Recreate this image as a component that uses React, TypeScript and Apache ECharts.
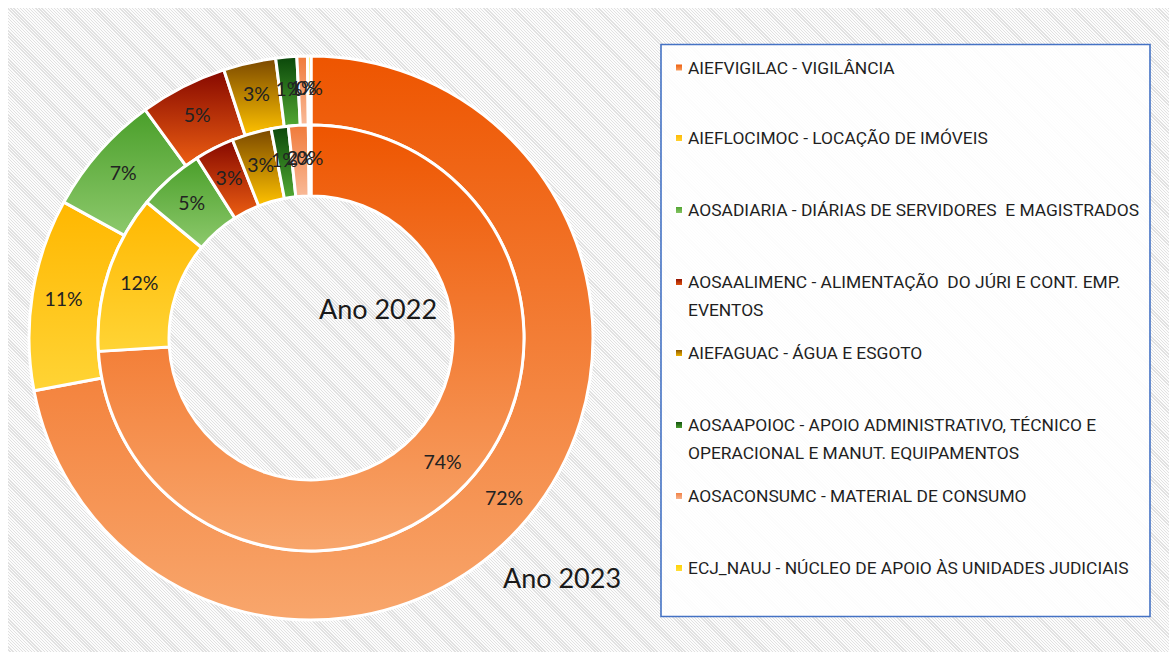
import React, { useEffect, useRef } from "react";
import * as echarts from "echarts";

const categories = [
  "AIEFVIGILAC - VIGILÂNCIA",
  "AIEFLOCIMOC - LOCAÇÃO DE IMÓVEIS",
  "AOSADIARIA - DIÁRIAS DE SERVIDORES  E MAGISTRADOS",
  "AOSAALIMENC - ALIMENTAÇÃO  DO JÚRI E CONT. EMP. EVENTOS",
  "AIEFAGUAC - ÁGUA E ESGOTO",
  "AOSAAPOIOC - APOIO ADMINISTRATIVO, TÉCNICO E OPERACIONAL E MANUT. EQUIPAMENTOS",
  "AOSACONSUMC - MATERIAL DE CONSUMO",
  "ECJ_NAUJ - NÚCLEO DE APOIO ÀS UNIDADES JUDICIAIS",
];

const legendLines = [
  ["AIEFVIGILAC - VIGILÂNCIA"],
  ["AIEFLOCIMOC - LOCAÇÃO DE IMÓVEIS"],
  ["AOSADIARIA - DIÁRIAS DE SERVIDORES  E MAGISTRADOS"],
  ["AOSAALIMENC - ALIMENTAÇÃO  DO JÚRI E CONT. EMP.", "EVENTOS"],
  ["AIEFAGUAC - ÁGUA E ESGOTO"],
  ["AOSAAPOIOC - APOIO ADMINISTRATIVO, TÉCNICO E", "OPERACIONAL E MANUT. EQUIPAMENTOS"],
  ["AOSACONSUMC - MATERIAL DE CONSUMO"],
  ["ECJ_NAUJ - NÚCLEO DE APOIO ÀS UNIDADES JUDICIAIS"],
];

const seriesNames = ["Ano 2023", "Ano 2022"];
const values2023 = [72, 11, 7, 5, 3, 1.2, 0.6, 0.2];
const values2022 = [74, 12, 5, 3, 3, 1.3, 1.5, 0.2];

const gradients = [
  ["#EE5500", "#F8A66C"],
  ["#FFB700", "#FFD435"],
  ["#4A9F2A", "#8DC96C"],
  ["#860800", "#EC5E12"],
  ["#7A4800", "#FFC200"],
  ["#0A470A", "#52A832"],
  ["#F07A3A", "#F9BA98"],
  ["#FFD000", "#FFE040"],
];

// first-line centre of each legend entry (chart coords)
const legendRowY = [59.5, 130, 202, 274, 345, 417, 488, 560];

const LINE_H = 27.5;

function grad(c: string[]) {
  return new echarts.graphic.LinearGradient(0, 0, 0, 1, [
    { offset: 0, color: c[0] },
    { offset: 1, color: c[1] },
  ]);
}

export default function App() {
  const ref = useRef<HTMLDivElement>(null);
  useEffect(() => {
    if (!ref.current) return;
    const chart = echarts.init(ref.current, undefined, { renderer: "svg" });

    const mkData = (vals: number[]) =>
      vals.map((v, i) => ({
        name: categories[i],
        value: v,
        itemStyle: { color: grad(gradients[i]) },
      }));

    const pieBase = {
      type: "pie",
      center: [303, 330],
      startAngle: 90,
      clockwise: true,
      avoidLabelOverlap: false,
      percentPrecision: 0,
      minShowLabelAngle: 0,
      silent: true,
      itemStyle: { borderColor: "#ffffff", borderWidth: 3 },
      label: {
        show: true,
        position: "inside",
        formatter: "{d}%",
        color: "#222222",
        fontFamily: "Lato",
        fontSize: 19.5,
      },
      labelLayout: { hideOverlap: false },
      labelLine: { show: false },
      emphasis: { disabled: true },
    };

    const legends = categories.map((name, i) => {
      const lines = legendLines[i];
      const twoLine = lines.length > 1;
      return {
        data: [name],
        orient: "vertical",
        left: 666,
        top: twoLine ? legendRowY[i] - LINE_H / 2 - LINE_H : legendRowY[i] - LINE_H / 2,
        padding: 0,
        icon: "rect",
        itemWidth: 8,
        itemHeight: 8,
        selectedMode: false,
        formatter: () => (twoLine ? "\u00a0\n" + lines.join("\n") : lines[0]),
        textStyle: {
          color: "#1f1f1f",
          fontFamily: "Roboto",
          fontSize: 17.4,
          lineHeight: LINE_H,
        },
      };
    });

    chart.setOption({
      animation: false,
      backgroundColor: "transparent",
      legend: legends,
      graphic: [
        {
          type: "rect",
          z: -10,
          shape: { x: 653, y: 36.5, width: 489, height: 572 },
          style: { fill: "rgba(255,255,255,0.9)", stroke: "#4472C4", lineWidth: 1.6 },
        },
        {
          type: "text",
          x: 378 - 8,
          y: 308 - 8,
          style: {
            text: seriesNames[1],
            font: "27px Lato",
            fill: "#1a1a1a",
            align: "center",
            verticalAlign: "middle",
            shadowColor: "rgba(0,0,0,0.35)",
            shadowBlur: 2,
            shadowOffsetX: 1,
            shadowOffsetY: 1,
          },
        },
        {
          type: "text",
          x: 562 - 8,
          y: 577 - 8,
          style: {
            text: seriesNames[0],
            font: "27px Lato",
            fill: "#1a1a1a",
            align: "center",
            verticalAlign: "middle",
            shadowColor: "rgba(0,0,0,0.35)",
            shadowBlur: 2,
            shadowOffsetX: 1,
            shadowOffsetY: 1,
          },
        },
      ],
      series: [
        { ...pieBase, name: seriesNames[0], radius: [213, 282], data: mkData(values2023) },
        { ...pieBase, name: seriesNames[1], radius: [142, 213], data: mkData(values2022) },
      ],
    });
    return () => chart.dispose();
  }, []);

  return (
    <div
      ref={ref}
      style={{
        position: "fixed",
        left: 8,
        top: 8,
        width: 1161,
        height: 644,
        background:
          "repeating-linear-gradient(45deg, #fcfcfc 0px, #fcfcfc 1.3px, #e1e1e1 1.3px, #e1e1e1 2.2px)",
      }}
    />
  );
}
